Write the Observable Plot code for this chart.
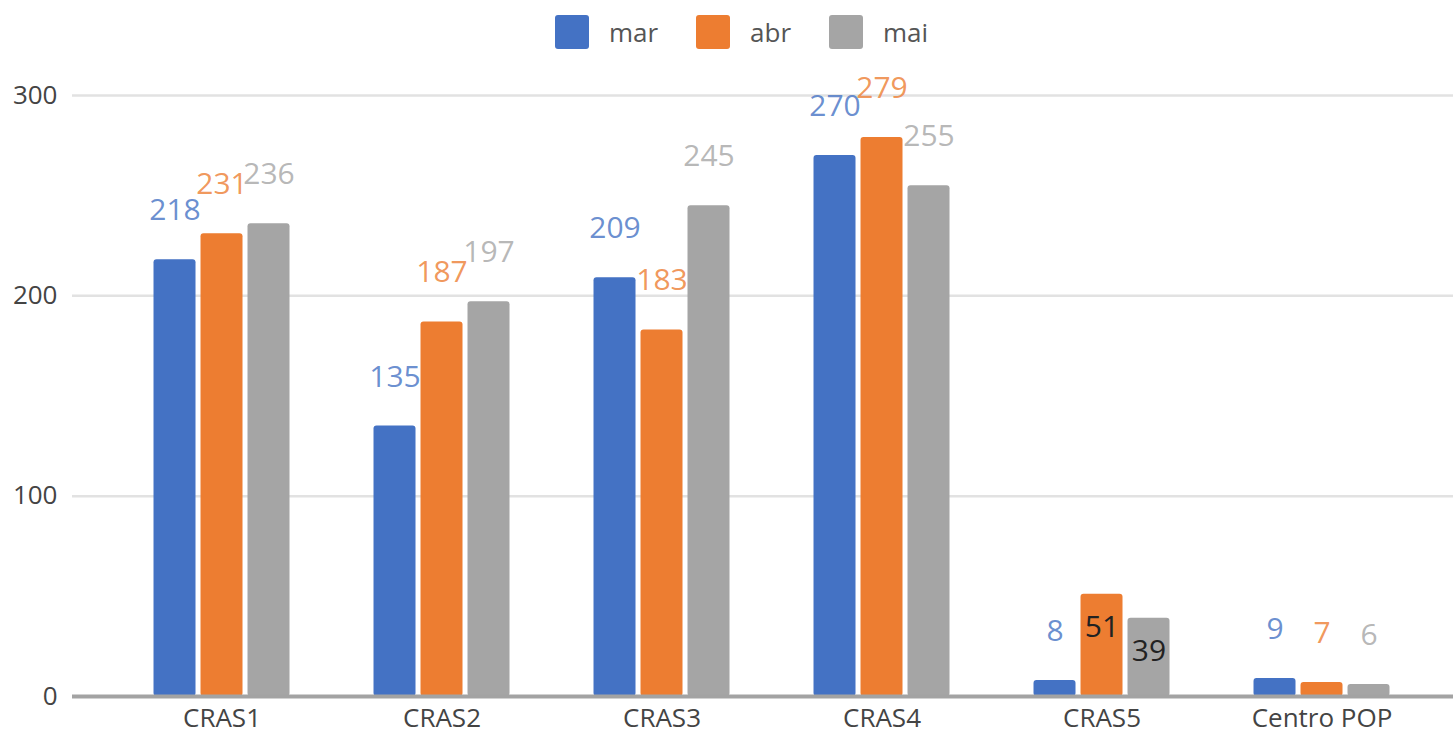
<!DOCTYPE html>
<html>
<head>
<meta charset="utf-8">
<script src="https://cdn.jsdelivr.net/npm/d3@7"></script>
<script src="https://cdn.jsdelivr.net/npm/@observablehq/plot@0.6"></script>
<style>
  html, body { margin: 0; padding: 0; background: #fff; }
  #legend { height: 60px; display: flex; align-items: center; justify-content: center; padding-left: 30px; box-sizing: border-box;
            font-family: "Open Sans", sans-serif; font-size: 26px; color: #555; padding-top: 4px; }
  .item { display: flex; align-items: center; margin: 0 19px; }
  .sw { width: 34px; height: 34px; border-radius: 3px; margin-right: 20px; }
</style>
</head>
<body>
<div id="legend"></div>
<div id="chart"></div>
<script>
const categories = ["CRAS1", "CRAS2", "CRAS3", "CRAS4", "CRAS5", "Centro POP"];
const seriesNames = ["mar", "abr", "mai"];
const mar = [218, 135, 209, 270, 8, 9];
const abr = [231, 187, 183, 279, 51, 7];
const mai = [236, 197, 245, 255, 39, 6];
const colors = ["#4472c4", "#ed7d31", "#a5a5a5"];
const yTicks = [0, 100, 200, 300];
const insideLabels = [["CRAS5", "abr"], ["CRAS5", "mai"]];

const seriesValues = [mar, abr, mai];
const rows = categories.flatMap((c, i) =>
  seriesValues.map((arr, j) => ({cat: c, series: seriesNames[j], value: arr[i]})));
const isInside = d => insideLabels.some(([c, s]) => c === d.cat && s === d.series);

// legend
const legend = document.getElementById("legend");
seriesNames.forEach((s, j) => {
  const it = document.createElement("div");
  it.className = "item";
  it.innerHTML = `<div class="sw" style="background:${colors[j]}"></div><span>${s}</span>`;
  legend.appendChild(it);
});

const offsets = [-47, 0, 47];
const marks = [
  Plot.ruleY(yTicks.filter(d => d > 0), {stroke: "#e2e2e2", strokeWidth: 2.5})
];
seriesNames.forEach((s, j) => {
  const sub = rows.filter(d => d.series === s);
  marks.push(Plot.barY(sub, {x: "cat", y: "value", fill: colors[j], dx: offsets[j], rx: 3}));
});
marks.push(Plot.ruleY([0], {stroke: "#a3a3a3", strokeWidth: 4}));
seriesNames.forEach((s, j) => {
  const sub = rows.filter(d => d.series === s);
  marks.push(Plot.text(sub.filter(d => !isInside(d)), {
    x: "cat", y: "value", text: d => String(d.value), dx: offsets[j], dy: -49,
    fill: colors[j], fillOpacity: 0.8, fontSize: 30
  }));
  marks.push(Plot.text(sub.filter(isInside), {
    x: "cat", y: "value", text: d => String(d.value), dx: offsets[j], dy: 33,
    fill: "#222", fontSize: 30
  }));
});

const chart = Plot.plot({
  width: 1453,
  height: 681,
  marginLeft: 72,
  marginRight: 0,
  marginTop: 35,
  marginBottom: 45,
  style: {fontFamily: "'Open Sans', sans-serif", fontSize: "26px", color: "#444", background: "#fff"},
  x: {domain: categories, paddingInner: 0.80909, paddingOuter: 0.54318, align: 0.5377, round: false,
      tickSize: 0, tickPadding: 12, label: null},
  y: {domain: [0, 300], ticks: yTicks, tickSize: 0, tickPadding: 15, label: null},
  marks
});
document.getElementById("chart").appendChild(chart);
</script>
</body>
</html>
